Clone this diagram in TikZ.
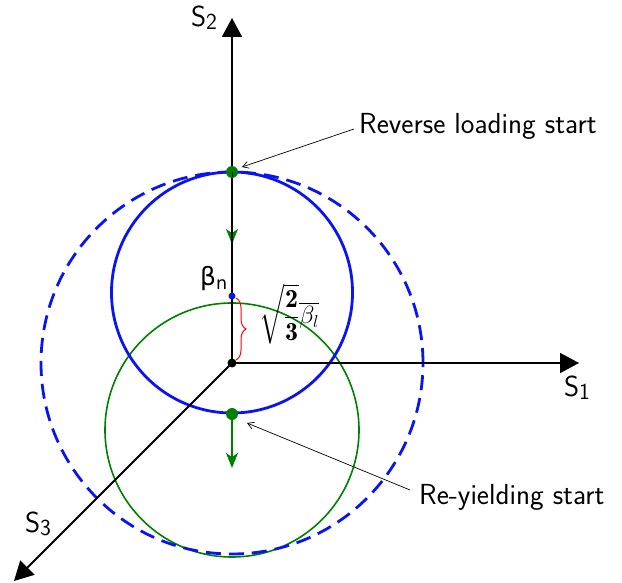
\documentclass[tikz,border=0pt]{standalone}
\usepackage{fontspec}
\usepackage{amsmath,bm}
\newfontfamily\dv{DejaVu Sans}
\usetikzlibrary{arrows.meta,decorations.pathreplacing}
\definecolor{myblue}{RGB}{10,20,240}
\definecolor{mygreen}{RGB}{0,128,0}
\newcommand\axsub[1]{\raisebox{-3pt}{\fontsize{23}{25}\selectfont#1}}
\begin{document}
\begin{tikzpicture}[x=1pt,y=-1pt,
  font=\sffamily\fontsize{29}{33}\selectfont,
  axis/.style={line width=1.8pt,-{Triangle[length=19pt,width=20pt]}},
  bluecirc/.style={myblue,line width=2.8pt},
  greencirc/.style={mygreen,line width=1.6pt},
  garrow/.style={mygreen,line width=1.6pt,-{Stealth[length=15pt,width=12pt,inset=4pt]}},
  leader/.style={line width=0.7pt,-{Straight Barb[length=6pt,width=7pt]}},
  lbl/.style={inner sep=1pt}]
\useasboundingbox (0,0) rectangle (622,583);
\coordinate (O) at (232,363);
\coordinate (S2tip) at (232,18);
\coordinate (S1tip) at (579,363);
\coordinate (S3tip) at (14,581);
\coordinate (Bc) at (232,292.5);
\coordinate (Gc) at (232,430);
\coordinate (top) at (232,172);
\coordinate (bot) at (232,414);
\coordinate (bn) at (232,296);
\coordinate (ga1) at (232,244);
\coordinate (ga2) at (232,468);
% circles
\draw[greencirc] (Gc) circle[radius=127pt];
\draw[bluecirc,dash pattern=on 15pt off 8pt] (O) circle[radius=191pt];
\draw[bluecirc] (Bc) circle[radius=120.5pt];
% green arrows
\draw[garrow] (top) -- (ga1);
\draw[garrow] (bot) -- (ga2);
% axes
\draw[axis] (O) -- (S2tip);
\draw[axis] (O) -- (S1tip);
\draw[axis] (O) -- (S3tip);
% dots
\fill[mygreen] (top) circle[radius=6pt];
\fill[mygreen] (bot) circle[radius=6pt];
\fill[myblue] (bn) circle[radius=3.5pt];
\fill[black] (O) circle[radius=4.5pt];
\draw[line width=1pt] (top) -- ++(0,5);
% labels
\node[lbl] (s2) at (204,18) {S\axsub{2}};
\node[lbl] (s1) at (577,388) {S\axsub{1}};
\node[lbl] (s3) at (38,524) {S\axsub{3}};
\node[lbl,font=\dv\fontsize{25}{28}\selectfont] (bnl) at (214,279) {β\textsubscript{n}};
\draw[red,line width=1pt,decorate,decoration={brace,amplitude=10pt}] (236,298) -- (236,360);
\node[lbl,font=\fontsize{26}{30}\selectfont] (form) at (289,314) {$\sqrt{\dfrac{\mathbf{2}}{\mathbf{3}}}\overline{\beta_{l}}$};
\node[lbl,anchor=west] (rev) at (358,126) {Reverse loading start};
\node[lbl,anchor=west] (rey) at (418,497) {Re-yielding start};
\coordinate (revend) at (242,167);
\coordinate (reyend) at (247,423);
\draw[leader] (rev.west) ++(-4,3) -- (revend);
\draw[leader] (rey.west) ++(-8,-7) -- (reyend);
\end{tikzpicture}
\end{document}
